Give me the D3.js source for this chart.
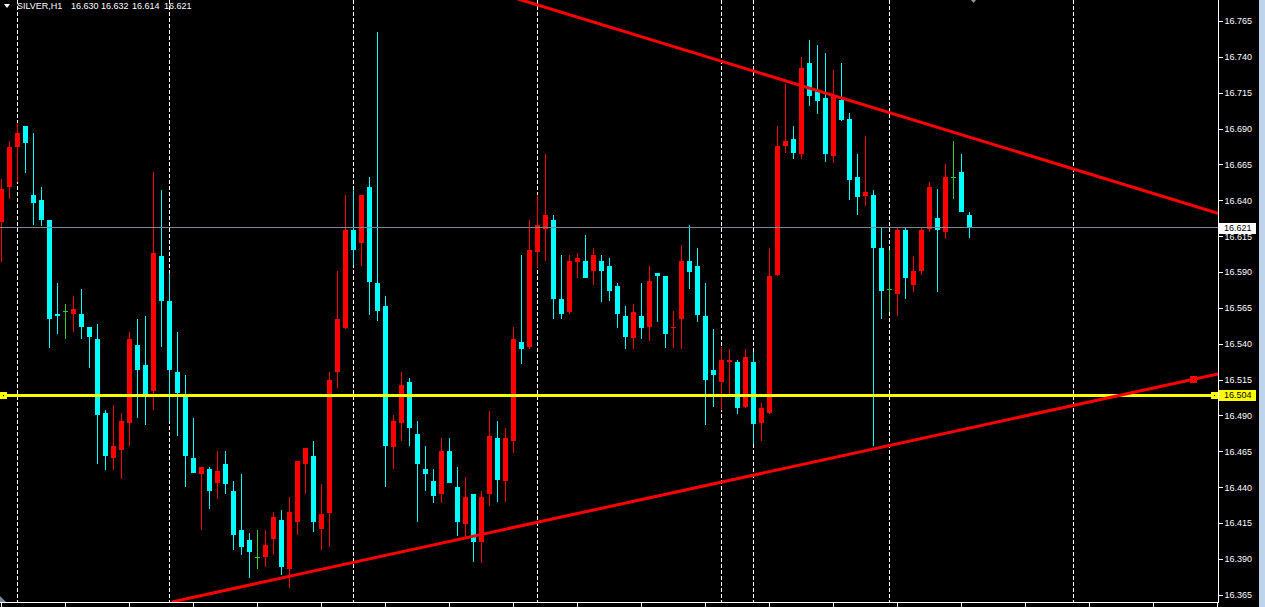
<!DOCTYPE html>
<html><head><meta charset="utf-8">
<script src="https://cdn.jsdelivr.net/npm/d3@7"></script>
<style>html,body{margin:0;padding:0;background:#000;overflow:hidden}</style>
</head><body>
<svg id="c" width="1265" height="607"></svg>
<script>
// ---------- data ----------
const symbol = "SILVER,H1";
const lastQuote = ["16.630", "16.632", "16.614", "16.621"];

const open = [16.625,16.649,16.677,16.692,16.644,16.640,16.626,16.561,16.563,16.561,
16.561,16.552,16.543,16.492,16.460,16.466,16.485,16.539,16.525,16.507,
16.601,16.570,16.520,16.503,16.460,16.449,16.453,16.443,16.456,16.437,
16.410,16.403,16.391,16.391,16.404,16.417,16.383,16.416,16.456,16.462,
16.411,16.422,16.520,16.551,16.619,16.610,16.649,16.582,16.566,16.468,
16.485,16.513,16.477,16.453,16.444,16.435,16.465,16.440,16.414,16.435,
16.402,16.435,16.474,16.444,16.472,16.541,16.538,16.604,16.620,16.626,
16.571,16.562,16.597,16.598,16.591,16.598,16.594,16.580,16.559,16.544,
16.559,16.552,16.589,16.587,16.551,16.557,16.598,16.594,16.559,16.522,
16.513,16.527,16.527,16.496,16.527,16.485,16.492,16.588,16.678,16.683,
16.672,16.736,16.717,16.711,16.671,16.710,16.697,16.656,16.643,16.644,
16.607,16.578,16.575,16.619,16.581,16.591,16.620,16.628,16.618,16.656,
16.660,16.630];

const high = [16.655,16.681,16.694,16.692,16.687,16.649,16.626,16.582,16.568,16.573,
16.578,16.552,16.554,16.494,16.497,16.492,16.548,16.557,16.559,16.660,
16.647,16.589,16.548,16.518,16.488,16.454,16.454,16.465,16.465,16.444,
16.449,16.408,16.410,16.410,16.423,16.424,16.433,16.458,16.467,16.472,
16.442,16.520,16.591,16.644,16.647,16.644,16.656,16.757,16.573,16.490,
16.520,16.516,16.486,16.469,16.453,16.474,16.474,16.454,16.447,16.435,
16.437,16.493,16.486,16.481,16.552,16.602,16.626,16.644,16.672,16.630,
16.602,16.602,16.603,16.616,16.607,16.602,16.600,16.582,16.566,16.568,
16.582,16.594,16.589,16.587,16.563,16.609,16.623,16.607,16.582,16.550,
16.538,16.536,16.529,16.536,16.534,16.499,16.607,16.692,16.721,16.692,
16.740,16.752,16.748,16.743,16.731,16.736,16.701,16.672,16.685,16.647,
16.621,16.605,16.621,16.621,16.601,16.621,16.653,16.648,16.665,16.681,
16.672,16.632];

const low = [16.597,16.641,16.653,16.659,16.623,16.622,16.537,16.547,16.543,16.548,
16.543,16.523,16.456,16.452,16.452,16.446,16.469,16.488,16.483,16.494,
16.538,16.486,16.476,16.440,16.450,16.410,16.425,16.432,16.435,16.396,
16.393,16.377,16.383,16.384,16.393,16.379,16.370,16.407,16.435,16.409,
16.396,16.398,16.509,16.550,16.595,16.594,16.560,16.556,16.440,16.453,
16.472,16.469,16.416,16.437,16.429,16.429,16.443,16.406,16.405,16.388,
16.387,16.427,16.430,16.430,16.464,16.526,16.536,16.593,16.598,16.557,
16.557,16.561,16.586,16.586,16.581,16.569,16.570,16.551,16.536,16.536,
16.543,16.542,16.555,16.537,16.537,16.536,16.578,16.555,16.483,16.496,
16.494,16.505,16.491,16.495,16.470,16.472,16.491,16.587,16.673,16.669,
16.669,16.706,16.700,16.667,16.666,16.695,16.640,16.630,16.636,16.469,
16.557,16.562,16.559,16.571,16.576,16.588,16.618,16.576,16.613,16.641,
16.632,16.614];

const close = [16.648,16.677,16.687,16.680,16.638,16.626,16.557,16.559,16.563,16.564,
16.552,16.545,16.490,16.462,16.469,16.486,16.543,16.522,16.505,16.603,
16.570,16.522,16.506,16.462,16.450,16.454,16.437,16.451,16.442,16.407,
16.398,16.395,16.391,16.400,16.419,16.384,16.423,16.458,16.467,16.416,
16.421,16.515,16.557,16.619,16.605,16.644,16.583,16.563,16.469,16.486,
16.511,16.481,16.456,16.449,16.434,16.465,16.443,16.416,16.433,16.402,
16.433,16.476,16.445,16.474,16.543,16.536,16.605,16.623,16.630,16.571,
16.561,16.598,16.600,16.586,16.602,16.591,16.577,16.561,16.545,16.562,
16.551,16.584,16.587,16.547,16.552,16.598,16.590,16.560,16.515,16.518,
16.529,16.529,16.495,16.531,16.484,16.495,16.587,16.678,16.681,16.673,
16.732,16.713,16.709,16.672,16.713,16.696,16.654,16.642,16.646,16.607,
16.577,16.578,16.619,16.586,16.591,16.619,16.649,16.619,16.656,16.656,
16.632,16.621];

const priceTicks = [16.365,16.390,16.415,16.440,16.465,16.490,16.515,16.540,16.565,
  16.590,16.615,16.640,16.665,16.690,16.715,16.740,16.765];
const separators = [2, 21, 44, 67, 90, 94, 111, 134];   // period separators (bar index)
const timeTicks = [0,8,16,24,32,40,48,56,64,72,80,88,96,104,112,120,128,136,144,152];
const bidPrice = 16.621;
const hLinePrice = 16.504;
const trendUpper = [[64.19, 16.781], [152.06, 16.631]];  // [bar index, price]
const trendLower = [[21.31, 16.360], [152.06, 16.519]];
const lowerHandle = [148.9, 16.5152];

// ---------- drawing ----------
const plotR = 1218, plotB = 602;
const svg = d3.select("#c").attr("shape-rendering", "crispEdges");
const x = d3.scaleLinear().domain([0, 152]).range([1.5, 1217.5]);
const y = d3.scaleLinear().domain([16.365, 16.765]).range([594.75, 21]);
const FONT = "'Liberation Sans', Arial, sans-serif";
const BULL = "#ff0000", BEAR = "#00ffff", DOJI = "#33cc33";

svg.append("rect").attr("width", 1265).attr("height", 607).attr("fill", "#000");
svg.append("rect").attr("x", 1259).attr("y", 0).attr("width", 6).attr("height", 607).attr("fill", "#bfd5ec");

svg.append("defs").append("clipPath").attr("id", "plot")
  .append("rect").attr("x", 0).attr("y", 0).attr("width", plotR).attr("height", plotB);

const plot = svg.append("g").attr("clip-path", "url(#plot)");

// separators
plot.selectAll("line.sep").data(separators).join("line")
  .attr("class", "sep")
  .attr("x1", d => Math.floor(x(d)) + 0.5).attr("x2", d => Math.floor(x(d)) + 0.5)
  .attr("y1", 0).attr("y2", plotB)
  .attr("stroke", "#ffffff").attr("stroke-width", 1).attr("stroke-dasharray", "4,2");

// candles
const idx = d3.range(open.length);
const colorOf = i => open[i] === close[i] ? DOJI : (close[i] > open[i] ? BULL : BEAR);
const cg = plot.append("g");
cg.selectAll("rect.wick").data(idx).join("rect")
  .attr("class", "wick")
  .attr("x", i => x(i) - 0.5).attr("width", 1)
  .attr("y", i => Math.round(y(high[i])))
  .attr("height", i => Math.max(1, Math.round(y(low[i])) - Math.round(y(high[i]))))
  .attr("fill", colorOf);
cg.selectAll("rect.body").data(idx).join("rect")
  .attr("class", "body")
  .attr("x", i => x(i) - 2.5).attr("width", 5)
  .attr("y", i => Math.round(y(Math.max(open[i], close[i]))))
  .attr("height", i => Math.max(1, Math.round(y(Math.min(open[i], close[i]))) - Math.round(y(Math.max(open[i], close[i])))))
  .attr("fill", colorOf);

// bid line
plot.append("line")
  .attr("x1", 0).attr("x2", plotR)
  .attr("y1", Math.floor(y(bidPrice)) + 0.5).attr("y2", Math.floor(y(bidPrice)) + 0.5)
  .attr("stroke", "#778899").attr("stroke-width", 1);

// horizontal line
plot.append("line")
  .attr("x1", 0).attr("x2", plotR)
  .attr("y1", Math.round(y(hLinePrice)) + 0.5).attr("y2", Math.round(y(hLinePrice)) + 0.5)
  .attr("stroke", "#ffff00").attr("stroke-width", 3);

// trend lines
const line = d3.line().x(d => x(d[0])).y(d => y(d[1]));
[trendUpper, trendLower].forEach(t => {
  plot.append("path").attr("d", line(t)).attr("fill", "none")
    .attr("stroke", "#ff0000").attr("stroke-width", 3)
    .attr("shape-rendering", "auto");
});

// handles
function handle(cx, cy, col) {
  svg.append("rect").attr("x", cx - 3).attr("y", cy - 3).attr("width", 7).attr("height", 7).attr("fill", col);
  svg.append("rect").attr("x", cx).attr("y", cy).attr("width", 1).attr("height", 1).attr("fill", "#000");
}
handle(Math.round(x(lowerHandle[0])), Math.round(y(lowerHandle[1])), "#ff0000");
handle(3, Math.round(y(hLinePrice)), "#ffff00");
handle(1214, Math.round(y(hLinePrice)), "#ffff00");

// frame
svg.append("line").attr("x1", plotR + 0.5).attr("x2", plotR + 0.5).attr("y1", 0).attr("y2", plotB + 1)
  .attr("stroke", "#fff");
svg.append("line").attr("x1", 0).attr("x2", plotR + 1).attr("y1", plotB + 0.5).attr("y2", plotB + 0.5)
  .attr("stroke", "#fff");

// price axis
const yAxis = d3.axisRight(y).tickValues(priceTicks).tickFormat(d3.format(".3f"))
  .tickSize(4).tickPadding(2).tickSizeOuter(0);
const ya = svg.append("g").attr("transform", `translate(${plotR + 0.5},0)`).call(yAxis);
ya.select(".domain").remove();
ya.selectAll("line").attr("stroke", "#fff");
ya.selectAll("text").attr("fill", "#fff").attr("font-family", FONT).attr("font-size", 9);

// time axis ticks
const xAxis = d3.axisBottom(x).tickValues(timeTicks).tickFormat("").tickSize(5).tickSizeOuter(0);
const xa = svg.append("g").attr("transform", `translate(-0.5,${plotB + 0.5})`).call(xAxis);
xa.select(".domain").remove();
xa.selectAll("line").attr("stroke", "#fff");

// price labels (bid & line)
function priceBox(p, bg) {
  const yy = Math.round(y(p));
  svg.append("rect").attr("x", 1219).attr("y", yy - 5).attr("width", 37).attr("height", 11).attr("fill", bg);
  svg.append("text").attr("x", 1224).attr("y", yy).attr("dy", "0.34em")
    .attr("font-family", FONT).attr("font-size", 9).attr("fill", "#000").text(d3.format(".3f")(p));
}
priceBox(bidPrice, "#ffffff");
priceBox(hLinePrice, "#ffff00");

// title
svg.append("path").attr("d", "M4,4 L10,4 L7,8 Z").attr("fill", "#fff").attr("shape-rendering", "auto");
const tx = [71, 101, 132, 164];
svg.append("text").attr("x", 17).attr("y", 9).attr("font-family", FONT).attr("font-size", 9)
  .attr("fill", "#fff").text(symbol);
lastQuote.forEach((q, i) => svg.append("text").attr("x", tx[i]).attr("y", 9)
  .attr("font-family", FONT).attr("font-size", 9).attr("fill", "#fff").text(q));

// chart shift markers
svg.append("path").attr("d", "M971,0 L976,0 L973.5,3 Z").attr("fill", "#8899aa").attr("shape-rendering", "auto");
svg.append("path").attr("d", "M0,596 L0,602 L6,602 Z").attr("fill", "#778899").attr("shape-rendering", "auto");
</script>
</body></html>
